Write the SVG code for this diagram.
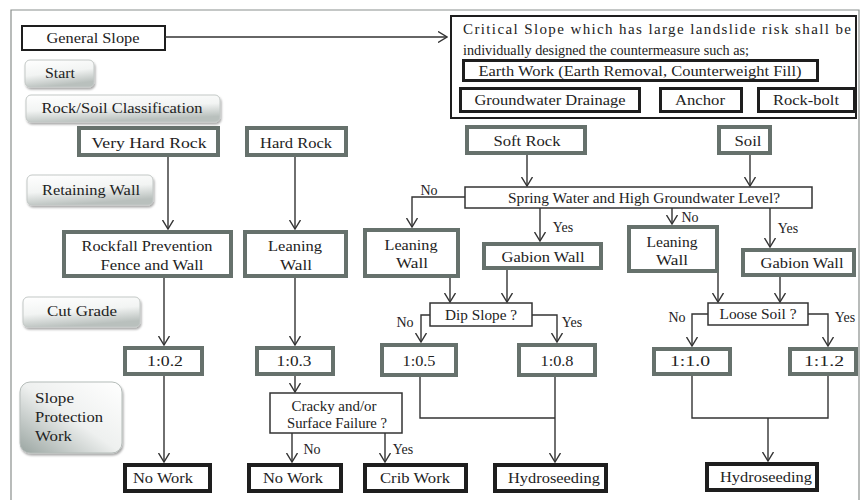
<svg xmlns="http://www.w3.org/2000/svg" width="861" height="500" viewBox="0 0 861 500" font-family="'Liberation Serif', 'Times New Roman', serif">
<defs>
<linearGradient id="lg" x1="0" y1="0" x2="0.3" y2="1">
<stop offset="0" stop-color="#ffffff"/>
<stop offset="0.55" stop-color="#f2f4f3"/>
<stop offset="1" stop-color="#b9c0bd"/>
</linearGradient>
<linearGradient id="lg2" x1="1" y1="0" x2="0" y2="1">
<stop offset="0" stop-color="#ffffff"/>
<stop offset="0.5" stop-color="#eef0ef"/>
<stop offset="1" stop-color="#9aa5a1"/>
</linearGradient>
<filter id="sh" x="-10%" y="-10%" width="130%" height="140%">
<feDropShadow dx="1" dy="2" stdDeviation="1.2" flood-color="#000" flood-opacity="0.35"/>
</filter>
<marker id="ah" viewBox="0 0 10 12" refX="9" refY="6" markerWidth="10" markerHeight="12" markerUnits="userSpaceOnUse" orient="auto">
<path d="M0,0.5 L9,6 L0,11.5" fill="none" stroke="#333" stroke-width="1.4"/>
</marker>
<style>
text{font-family:'Liberation Serif','Times New Roman',serif;font-size:15px;fill:#222;text-anchor:middle}
.g{fill:#fff;stroke:#66716c;stroke-width:4}
.k{fill:#fff;stroke:#1e1e1e;stroke-width:4}
.k3{fill:#fff;stroke:#1e1e1e;stroke-width:3}
.t{fill:#fff;stroke:#333;stroke-width:1.5}
.lab{fill:url(#lg);stroke:#c3c8c6;stroke-width:1;filter:url(#sh)}
.c{fill:none;stroke:#333;stroke-width:1.4}
.a{marker-end:url(#ah)}
.s{font-size:14px}
</style>
</defs>
<rect width="861" height="500" fill="#fff"/>
<path d="M11,500 V10 H859 V500" fill="none" stroke="#8a8f8d" stroke-width="1.2"/>

<g id="general-slope"><rect x="22" y="26" width="143" height="24" fill="#fff" stroke="#1e1e1e" stroke-width="2"/><text x="93" y="43" textLength="93" lengthAdjust="spacingAndGlyphs">General Slope</text></g>

<g id="critical-slope">
<rect x="451" y="16" width="405" height="102" fill="#fff" stroke="#1e1e1e" stroke-width="2"/>
<text x="463" y="34" style="text-anchor:start" textLength="388" lengthAdjust="spacing">Critical Slope which has large landslide risk shall be</text>
<text x="463" y="55" style="text-anchor:start" textLength="286" lengthAdjust="spacingAndGlyphs">individually designed the countermeasure such as;</text>
</g>
<g id="earth-work"><rect class="k3" x="463.5" y="60.5" width="354" height="20"/><text x="640" y="76" textLength="323" lengthAdjust="spacingAndGlyphs">Earth Work (Earth Removal, Counterweight Fill)</text></g>
<g id="groundwater-drainage"><rect class="k3" x="460.5" y="88.5" width="179" height="23"/><text x="550" y="105" textLength="151" lengthAdjust="spacingAndGlyphs">Groundwater Drainage</text></g>
<g id="anchor"><rect class="k3" x="660.5" y="88.5" width="81" height="23"/><text x="700" y="105" textLength="50" lengthAdjust="spacingAndGlyphs">Anchor</text></g>
<g id="rock-bolt"><rect class="k3" x="758.5" y="88.5" width="96" height="23"/><text x="806" y="105" textLength="66" lengthAdjust="spacingAndGlyphs">Rock-bolt</text></g>

<g id="start"><rect class="lab" x="25" y="60" width="69" height="27" rx="5"/><text x="60" y="78" textLength="30" lengthAdjust="spacingAndGlyphs">Start</text></g>
<g id="rock-soil-classification"><rect class="lab" x="26" y="95" width="194" height="27" rx="5"/><text x="122" y="113" textLength="161" lengthAdjust="spacingAndGlyphs">Rock/Soil Classification</text></g>
<g id="retaining-wall"><rect class="lab" x="27" y="175" width="126" height="30" rx="5"/><text x="91" y="195" textLength="98" lengthAdjust="spacingAndGlyphs">Retaining Wall</text></g>
<g id="cut-grade"><rect class="lab" x="23" y="297" width="117" height="30" rx="5"/><text x="82" y="316" textLength="70" lengthAdjust="spacingAndGlyphs">Cut Grade</text></g>
<g id="slope-protection-work"><rect x="20" y="382" width="102" height="71" rx="10" fill="url(#lg2)" stroke="#b5bcb9" stroke-width="1" filter="url(#sh)"/>
<text x="35" y="403" style="text-anchor:start" textLength="39" lengthAdjust="spacingAndGlyphs">Slope</text>
<text x="35" y="422" style="text-anchor:start" textLength="68" lengthAdjust="spacingAndGlyphs">Protection</text>
<text x="35" y="441" style="text-anchor:start" textLength="37" lengthAdjust="spacingAndGlyphs">Work</text></g>

<g id="very-hard-rock"><rect class="g" x="79" y="128" width="139" height="27"/><text x="149" y="148" textLength="115" lengthAdjust="spacingAndGlyphs">Very Hard Rock</text></g>
<g id="hard-rock"><rect class="g" x="247" y="128" width="99" height="27"/><text x="296" y="148" textLength="72" lengthAdjust="spacingAndGlyphs">Hard Rock</text></g>
<g id="soft-rock"><rect class="g" x="467" y="127" width="118" height="26"/><text x="527" y="146" textLength="67" lengthAdjust="spacingAndGlyphs">Soft Rock</text></g>
<g id="soil"><rect class="g" x="719" y="127" width="51" height="26"/><text x="748" y="146" textLength="27" lengthAdjust="spacingAndGlyphs">Soil</text></g>

<g id="spring-water"><rect class="t" x="465" y="187" width="347" height="21"/><text class="s" x="644" y="203" textLength="272" lengthAdjust="spacingAndGlyphs">Spring Water and High Groundwater Level?</text></g>

<g id="rockfall-prevention"><rect class="g" x="64" y="232" width="167" height="44"/><text x="147" y="251" textLength="131" lengthAdjust="spacingAndGlyphs">Rockfall Prevention</text><text x="152" y="270" textLength="103" lengthAdjust="spacingAndGlyphs">Fence and Wall</text></g>
<g id="leaning-wall-hard"><rect class="g" x="245" y="232" width="101" height="44"/><text x="295" y="251" textLength="54" lengthAdjust="spacingAndGlyphs">Leaning</text><text x="296" y="270" textLength="32" lengthAdjust="spacingAndGlyphs">Wall</text></g>
<g id="leaning-wall-soft"><rect class="g" x="365" y="230" width="93" height="46"/><text x="411" y="250" textLength="53" lengthAdjust="spacingAndGlyphs">Leaning</text><text x="412" y="268" textLength="32" lengthAdjust="spacingAndGlyphs">Wall</text></g>
<g id="gabion-wall-soft"><rect class="g" x="484" y="244" width="117" height="24"/><text x="543" y="262" textLength="83" lengthAdjust="spacingAndGlyphs">Gabion Wall</text></g>
<g id="leaning-wall-soil"><rect class="g" x="629" y="227" width="88" height="44"/><text x="672" y="247" textLength="51" lengthAdjust="spacingAndGlyphs">Leaning</text><text x="672" y="265" textLength="32" lengthAdjust="spacingAndGlyphs">Wall</text></g>
<g id="gabion-wall-soil"><rect class="g" x="743" y="250" width="111" height="25"/><text x="802" y="268" textLength="83" lengthAdjust="spacingAndGlyphs">Gabion Wall</text></g>

<g id="dip-slope"><rect class="t" x="430" y="303" width="102" height="23"/><text class="s" x="481" y="320" textLength="72" lengthAdjust="spacingAndGlyphs">Dip Slope ?</text></g>
<g id="loose-soil"><rect class="t" x="708" y="303" width="100" height="22"/><text class="s" x="758" y="319" textLength="77" lengthAdjust="spacingAndGlyphs">Loose Soil ?</text></g>

<g id="grade-1-0-2"><rect class="g" x="125" y="348" width="77" height="26"/><text x="165" y="366" textLength="36" lengthAdjust="spacingAndGlyphs">1:0.2</text></g>
<g id="grade-1-0-3"><rect class="g" x="257" y="348" width="76" height="26"/><text x="294" y="366" textLength="35" lengthAdjust="spacingAndGlyphs">1:0.3</text></g>
<g id="grade-1-0-5"><rect class="g" x="382" y="345" width="74" height="30"/><text x="419" y="366" textLength="33" lengthAdjust="spacingAndGlyphs">1:0.5</text></g>
<g id="grade-1-0-8"><rect class="g" x="519" y="345" width="76" height="30"/><text x="557" y="366" textLength="33" lengthAdjust="spacingAndGlyphs">1:0.8</text></g>
<g id="grade-1-1-0"><rect class="g" x="654" y="349" width="76" height="25"/><text x="690" y="366" textLength="40" lengthAdjust="spacingAndGlyphs">1:1.0</text></g>
<g id="grade-1-1-2"><rect class="g" x="790" y="349" width="66" height="25"/><text x="824" y="366" textLength="40" lengthAdjust="spacingAndGlyphs">1:1.2</text></g>

<g id="cracky"><rect class="t" x="270" y="393" width="132" height="40"/><text class="s" x="334" y="411" textLength="85" lengthAdjust="spacingAndGlyphs">Cracky and/or</text><text class="s" x="337" y="428" textLength="100" lengthAdjust="spacingAndGlyphs">Surface Failure ?</text></g>

<g id="no-work-1"><rect class="k" x="125" y="465" width="85" height="26"/><text x="163" y="483" textLength="60" lengthAdjust="spacingAndGlyphs">No Work</text></g>
<g id="no-work-2"><rect class="k" x="249" y="465" width="92" height="26"/><text x="293" y="483" textLength="60" lengthAdjust="spacingAndGlyphs">No Work</text></g>
<g id="crib-work"><rect class="k" x="365" y="465" width="101" height="26"/><text x="415" y="483" textLength="70" lengthAdjust="spacingAndGlyphs">Crib Work</text></g>
<g id="hydroseeding-1"><rect class="k" x="495" y="465" width="111" height="26"/><text x="554" y="483" textLength="92" lengthAdjust="spacingAndGlyphs">Hydroseeding</text></g>
<g id="hydroseeding-2"><rect class="k" x="707" y="464" width="110" height="26"/><text x="766" y="482" textLength="92" lengthAdjust="spacingAndGlyphs">Hydroseeding</text></g>

<g id="connectors">
<path class="c a" d="M165,37 H447"/>
<path class="c a" d="M168,157 V229"/>
<path class="c a" d="M295,157 V229"/>
<path class="c a" d="M527,155 V186"/>
<path class="c a" d="M750,155 V186"/>
<path class="c a" d="M465,197 H412 V227"/>
<path class="c a" d="M540,208 V241"/>
<path class="c a" d="M672,208 V224"/>
<path class="c a" d="M770,208 V247"/>
<path class="c a" d="M450,278 V302"/>
<path class="c a" d="M507,270 V302"/>
<path class="c a" d="M430,315 H421 V342"/>
<path class="c a" d="M532,315 H557 V342"/>
<path class="c a" d="M718,273 V302"/>
<path class="c a" d="M780,277 V302"/>
<path class="c a" d="M708,314 H692 V346"/>
<path class="c a" d="M808,314 H828 V346"/>
<path class="c a" d="M164,278 V345"/>
<path class="c a" d="M295,278 V345"/>
<path class="c a" d="M164,376 V462"/>
<path class="c a" d="M295,376 V392"/>
<path class="c a" d="M292,433 V462"/>
<path class="c a" d="M385,433 V462"/>
<path class="c" d="M420,377 V418 H555"/>
<path class="c a" d="M555,377 V462"/>
<path class="c" d="M692,376 V418 H828 V376"/>
<path class="c a" d="M768,418 V461"/>
<text class="s" x="429" y="195">No</text>
<text class="s" x="563" y="232">Yes</text>
<text class="s" x="690" y="222">No</text>
<text class="s" x="788" y="233">Yes</text>
<text class="s" x="405" y="327">No</text>
<text class="s" x="572" y="327">Yes</text>
<text class="s" x="677" y="322">No</text>
<text class="s" x="845" y="322">Yes</text>
<text class="s" x="312" y="454">No</text>
<text class="s" x="403" y="454">Yes</text>
</g>
</svg>
